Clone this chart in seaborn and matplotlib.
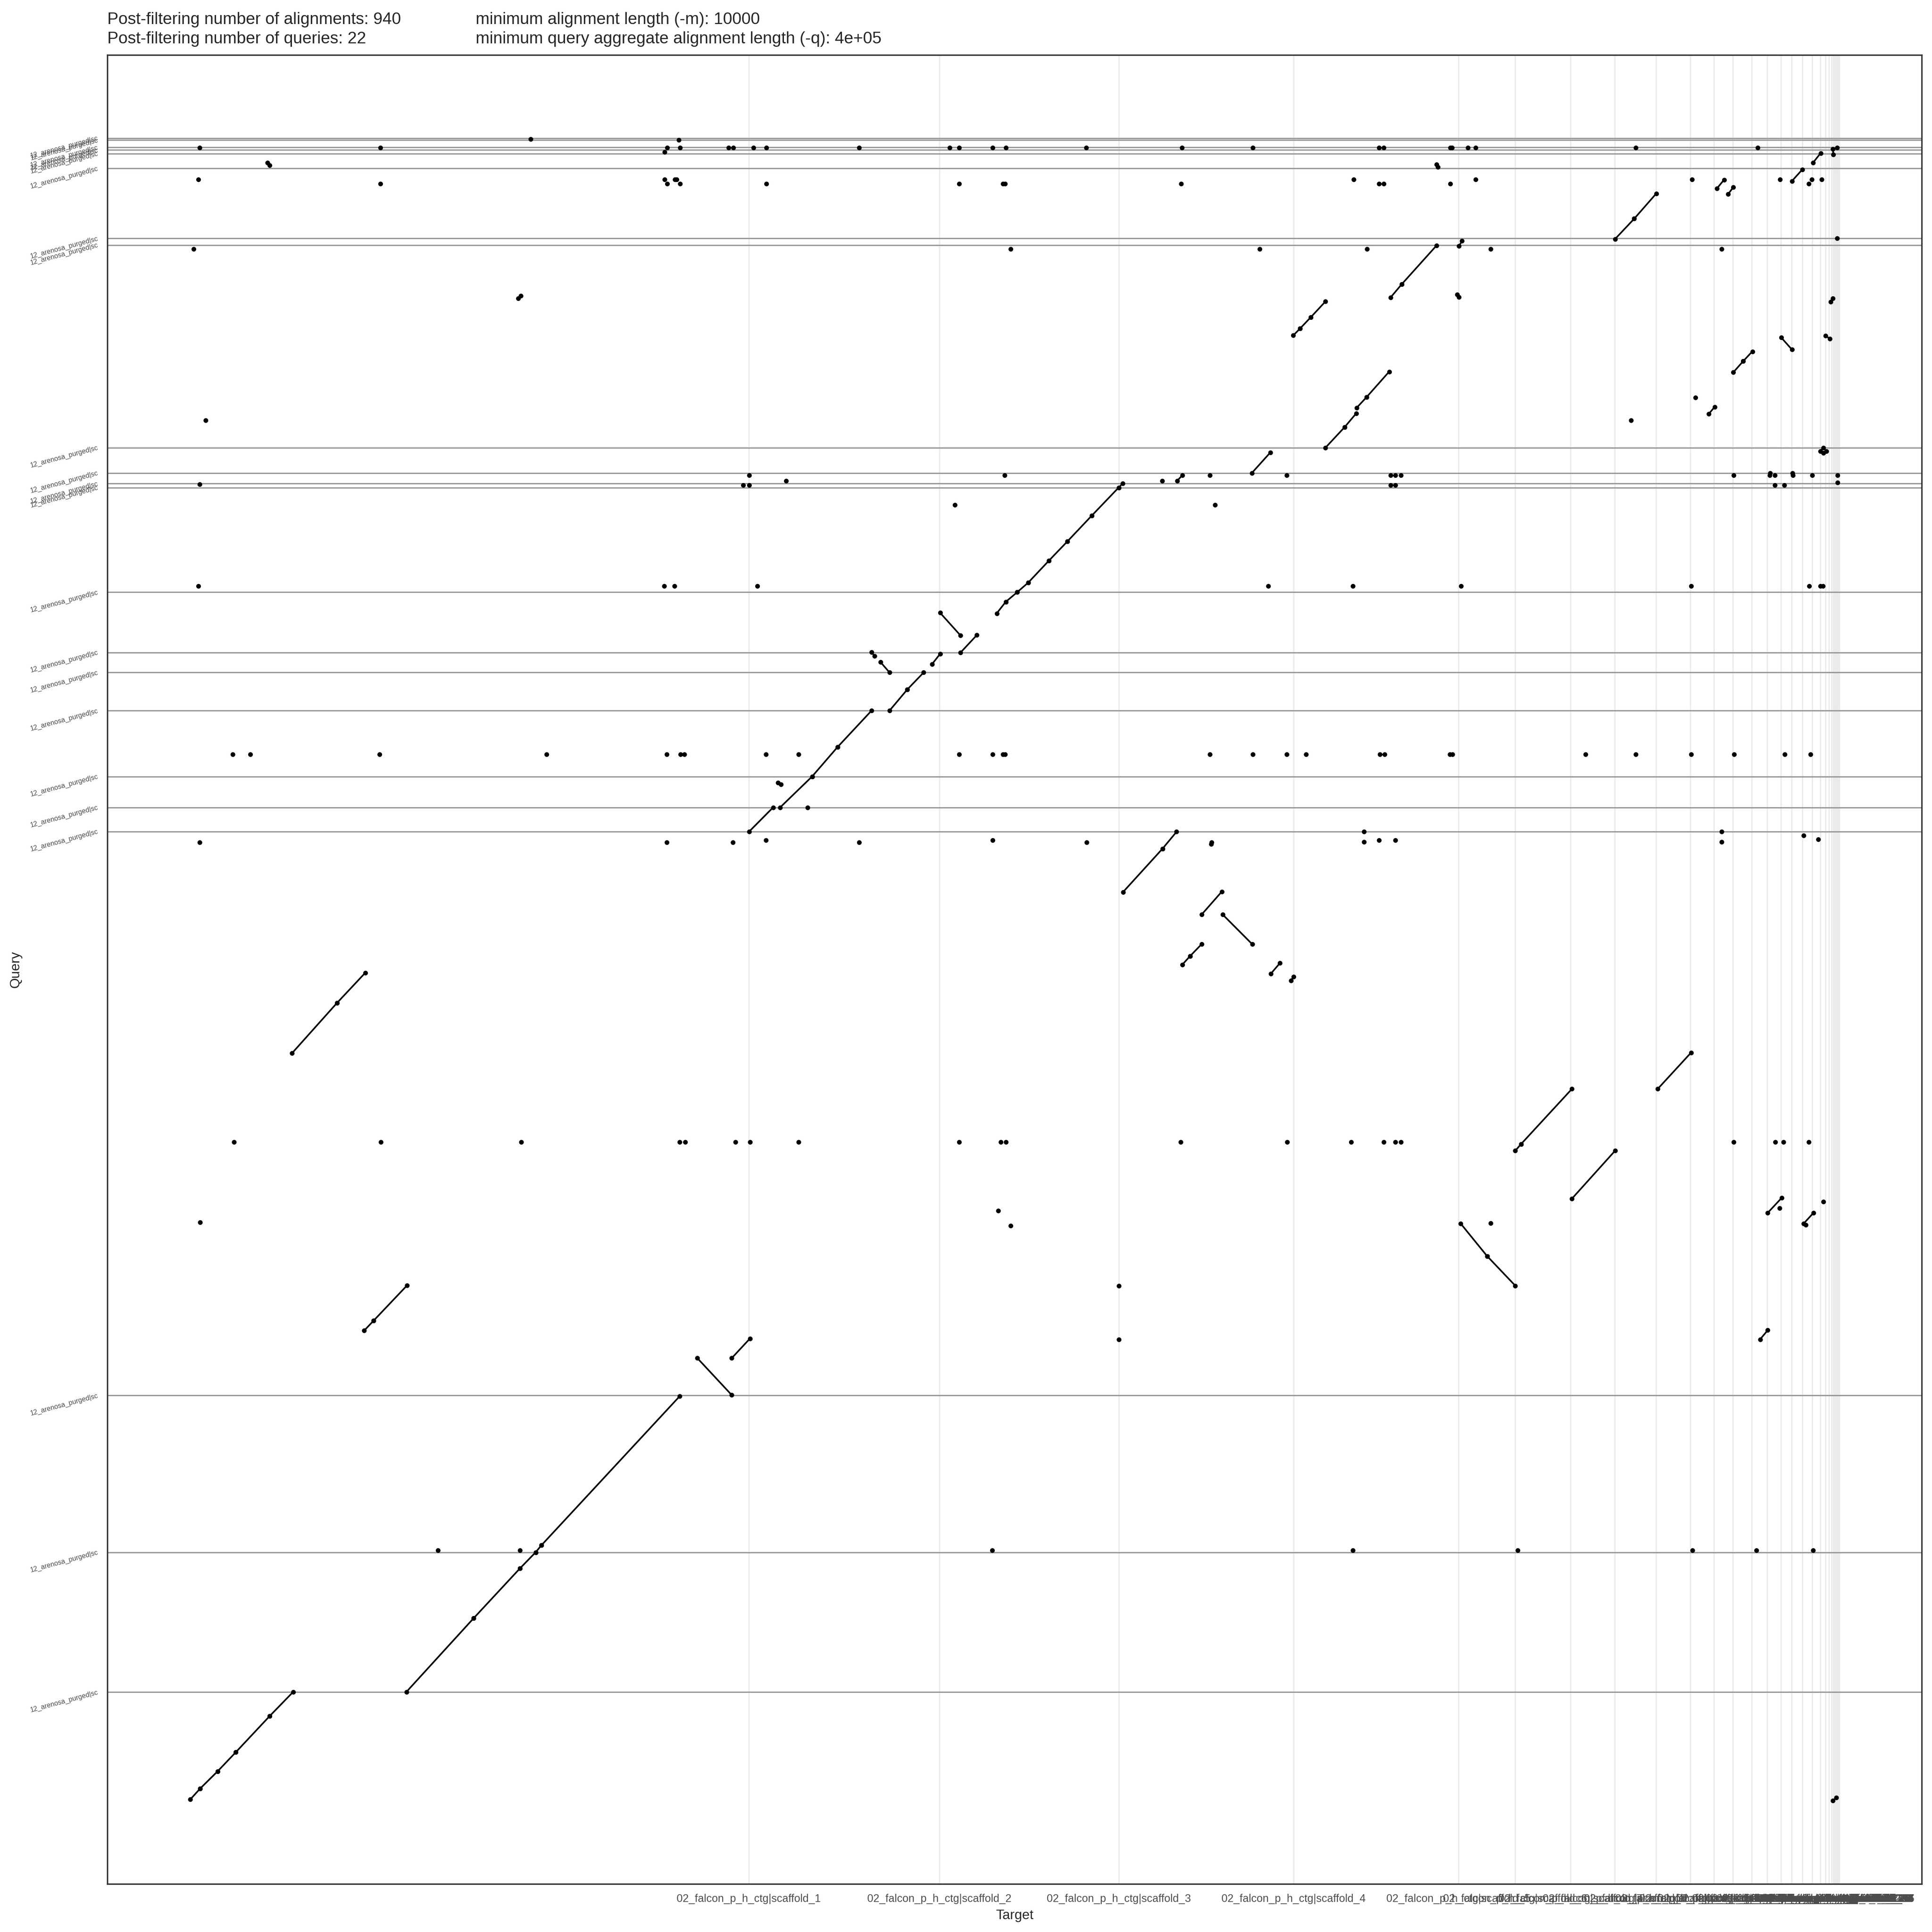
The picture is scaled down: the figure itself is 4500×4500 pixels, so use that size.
import numpy as np
import pandas as pd
import matplotlib
matplotlib.use("Agg")
import matplotlib.pyplot as plt
import seaborn as sns

# Target scaffolds (Mb), in plotting order
target_len = [45.43, 15.47, 14.60, 14.20, 13.40, 4.60, 4.50, 3.60, 3.33, 2.80,
              1.93, 1.53, 1.53, 1.26, 1.12, 0.87, 0.86, 0.82, 0.65, 0.40,
              0.30, 0.19, 0.14, 0.11, 0.04, 0.04, 0.04, 0.04, 0.04, 0.03,
              0.03, 0.03, 0.03, 0.02, 0.02, 0.02, 0.01]
target_names = ["02_falcon_p_h_ctg|scaffold_%d" % (i + 1) for i in range(len(target_len))]

# Query scaffolds (Mb), bottom to top
query_len = [8.82, 11.33, 12.72, 45.73, 1.96, 2.51, 5.34, 3.09, 1.62, 4.89,
             8.49, 0.33, 0.85, 2.06, 16.42, 0.54, 5.68, 1.20, 0.30, 0.20,
             0.60, 0.16]
query_names = ["12_arenosa_purged|sc"] * len(query_len)

# Alignments in cumulative coordinates (Mb): target start/end, query start/end
aln_t1 = [0.04, 0.84, 2.26, 3.73, 6.49, 133.50,
          17.60, 23.06, 26.84, 28.10, 28.58,
          41.24, 44.04, 14.17, 14.93, 8.31, 11.95, 75.83, 79.04, 82.21,
          83.94, 80.65, 81.28, 87.83, 89.47, 107.71, 108.17, 112.31, 119.28, 103.27,
          105.42, 128.22, 131.14, 127.60,
          45.46, 47.97, 47.80, 50.57, 52.63, 56.86, 58.30,
          60.30, 55.40, 56.13, 62.63, 60.97, 65.57, 66.30,
          67.23, 68.13, 69.80, 71.30, 73.30, 75.48, 86.30, 80.23,
          92.29, 93.84, 94.81, 95.63, 89.67, 90.22, 91.08, 97.56, 98.49, 103.14,
          102.97, 125.42, 126.22, 129.32, 133.35, 132.93, 123.42, 132.50, 132.73,
          115.82, 117.37, 130.18, 124.08, 125.01, 101.32, 131.90, 133.52, 6.30, 26.70]
aln_t2 = [0.84, 2.26, 3.73, 6.49, 8.40, 133.80,
          23.06, 26.84, 28.10, 28.58, 39.80,
          44.04, 45.51, 14.93, 17.64, 11.95, 14.26, 79.04, 80.18, 83.85,
          86.34, 81.28, 82.21, 88.59, 89.68, 108.17, 112.31, 115.82, 121.98, 105.42,
          107.71, 129.36, 131.94, 128.22,
          47.40, 50.57, 48.03, 52.63, 55.40, 58.30, 59.63,
          60.97, 55.63, 56.86, 63.96, 62.63, 66.30, 67.23,
          68.13, 69.80, 71.30, 73.30, 75.48, 75.80, 87.80, 80.66,
          93.84, 94.77, 95.63, 97.46, 90.22, 91.08, 92.29, 98.49, 101.32, 103.38,
          103.11, 126.22, 126.97, 130.18, 133.52, 133.28, 123.91, 132.75, 133.00,
          117.37, 119.16, 131.04, 124.67, 125.42, 101.42, 132.52, 133.55, 6.50, 26.90]
aln_q1 = [0.11, 0.99, 2.39, 3.93, 6.87, 0.00,
          8.83, 14.80, 18.86, 20.15, 20.73,
          35.90, 35.90, 38.13, 38.93, 60.63, 64.69, 73.69, 77.21, 71.86,
          71.86, 67.81, 68.50, 67.06, 66.51, 52.72, 53.25, 48.83, 57.73, 46.81,
          44.17, 47.68, 46.81, 37.42,
          78.61, 80.56, 82.56, 83.07, 85.45, 88.41, 90.12,
          92.16, 93.16, 92.34, 93.12, 96.34, 96.30, 97.23,
          98.01, 98.79, 100.56, 102.12, 104.23, 106.50, 107.68, 107.05,
          109.74, 111.40, 112.96, 113.84, 118.84, 119.40, 120.30, 121.90, 123.00, 126.10,
          122.16, 115.84, 116.74, 118.66, 121.56, 118.80, 112.46, 109.46, 109.30,
          126.66, 128.30, 131.35, 130.74, 130.30, 132.70, 132.84, 133.95, 132.85, 121.85]
aln_q2 = [0.99, 2.39, 3.93, 6.87, 8.83, 0.25,
          14.80, 18.86, 20.15, 20.73, 32.80,
          32.90, 37.48, 38.93, 41.78, 64.69, 67.15, 77.21, 78.58, 73.72,
          69.46, 68.50, 69.46, 67.94, 66.82, 53.25, 57.73, 52.72, 60.66, 44.17,
          41.77, 48.90, 47.68, 38.16,
          80.56, 83.07, 82.41, 85.45, 88.41, 90.12, 91.50,
          93.01, 92.85, 91.50, 94.54, 94.50, 97.23, 98.01,
          98.79, 100.56, 102.12, 104.23, 106.50, 106.83, 109.34, 107.50,
          111.40, 112.50, 113.84, 115.90, 119.40, 120.30, 121.60, 123.00, 126.14, 126.50,
          121.94, 116.74, 117.54, 117.70, 121.84, 118.56, 113.04, 109.74, 109.46,
          128.30, 130.34, 132.30, 131.46, 130.86, 132.50, 133.62, 133.49, 132.65, 122.05]

# Short alignments (dots), grouped by query position
dot_rows_q = [53.44, 20.30, 84.85, 98.50, 77.72, 77.89, 77.77, 78.58,
              107.50, 106.68, 134.07, 131.49, 131.14, 125.85]
dot_rows_t = [
    [3.6, 15.51, 26.93, 39.82, 40.26, 44.35, 45.51, 49.46, 62.53, 65.9, 66.3, 80.52,
     89.17, 94.37, 97.03, 97.96, 98.42, 125.44, 128.82, 129.5, 131.57],
    [20.17, 26.84, 65.2, 94.5, 107.9, 122.1, 127.3, 131.9],
    [3.5, 4.9, 15.4, 29.0, 38.77, 39.86, 40.2, 46.83, 49.46, 62.5, 65.23, 66.06, 66.26,
     82.9, 86.37, 89.13, 90.7, 96.7, 97.1, 102.4, 102.6, 113.4, 117.5, 122.0, 125.5,
     129.6, 131.7],
    [0.7, 38.56, 39.37, 46.13, 87.63, 94.5, 103.3, 122.0, 131.6, 132.5, 132.7],
    [0.8, 38.77, 44.13, 54.37, 72.87, 83.03],
    [46.83, 65.23, 96.64, 97.96],
    [95.43, 124.47],
    [95.43, 124.47],
    [45.46, 66.23, 82.9, 89.12, 97.56, 97.97, 98.42, 125.46, 128.39, 128.8, 130.25,
     131.83, 133.9],
    [44.97, 45.46, 97.56, 97.97, 128.8, 129.56],
    [0.8, 15.5, 38.78, 39.85, 43.78, 44.15, 45.82, 46.85, 54.38, 61.75, 62.52, 65.22,
     66.32, 72.85, 80.62, 86.37, 96.63, 97.01, 102.42, 102.56, 103.86, 104.48, 117.5,
     127.42, 133.86],
    [0.7, 38.58, 39.42, 39.55, 94.56, 104.48, 122.05, 129.21, 131.79, 132.59],
    [15.5, 38.78, 39.85, 46.85, 62.52, 66.08, 66.25, 80.55, 96.63, 97.01, 102.42, 131.55],
    [0.3, 66.7, 86.95, 95.67, 105.72, 124.49],
]
dot_t_single = [0.84, 83.01, 131.14, 132.32, 105.72, 129.2, 131.3, 132.74, 75.49, 75.49,
                65.7, 66.7, 50.2, 48.46, 79.03, 62.16, 83.3, 133.9, 0.8, 128.43,
                130.24, 39.75, 38.58, 27.7, 133.85, 1.3, 117.1, 122.35]
dot_q_single = [46.91, 77.58, 78.27, 77.96, 46.83, 48.07, 46.7, 48.59, 41.77, 37.42,
                47.85, 46.65, 80.56, 107.05, 107.05, 105.08, 105.08, 106.9, 106.75, 107.68,
                107.68, 134.69, 133.72, 134.75, 126.7, 111.95, 111.94, 113.78]

# ---- build tables ----
target_ends = np.cumsum(target_len)
query_ends = np.cumsum(query_len)

seg = pd.DataFrame({"t1": aln_t1, "t2": aln_t2, "q1": aln_q1, "q2": aln_q2})
seg["id"] = np.arange(len(seg))
seg_long = pd.concat([
    seg[["id", "t1", "q1"]].rename(columns={"t1": "t", "q1": "q"}),
    seg[["id", "t2", "q2"]].rename(columns={"t2": "t", "q2": "q"}),
]).sort_values(["id"], kind="stable")

dots = pd.DataFrame({
    "t": [x for row in dot_rows_t for x in row] + dot_t_single,
    "q": [q for q, row in zip(dot_rows_q, dot_rows_t) for _ in row] + dot_q_single,
})
ends = pd.concat([seg_long[["t", "q"]], dots])

# ---- plot ----
sns.set_style("white")
plt.rcParams["font.family"] = ["Liberation Sans", "DejaVu Sans"]

fig = plt.figure(figsize=(15, 15), dpi=300)
ax = fig.add_axes([250 / 4500, 112 / 4500, 4226 / 4500, 4260 / 4500])

for q in query_ends:
    ax.axhline(q, color="#999999", lw=0.75, zorder=1)

sns.lineplot(data=seg_long, x="t", y="q", units="id", estimator=None, sort=False,
             color="black", lw=0.9, ax=ax, zorder=3)
sns.scatterplot(data=ends, x="t", y="q", s=7, color="black", linewidth=0,
                ax=ax, zorder=4, legend=False)

T = target_ends[-1]
Q = query_ends[-1]
ax.set_xlim(-0.05 * T, 1.05 * T)
ax.set_ylim(-0.05 * Q, 1.05 * Q)

ax.set_xticks(target_ends)
ax.set_xticklabels(target_names, fontsize=6.05, color="#4D4D4D")
ax.set_yticks(query_ends)
ax.set_yticklabels(query_names, fontsize=3.85, color="#4D4D4D", rotation=15,
                   ha="right", va="center", rotation_mode="anchor")

ax.grid(axis="x", color="#EBEBEB", lw=0.75, zorder=0)
ax.grid(axis="y", visible=False)
ax.set_axisbelow(True)
ax.tick_params(axis="x", direction="out", length=2.6, width=0.7, color="#333333", pad=3.0)
ax.tick_params(axis="y", direction="out", length=3.1, width=0.7, color="#333333", pad=2.2)
for s in ax.spines.values():
    s.set_color("#333333")
    s.set_linewidth(0.8)

ax.set_xlabel("Target", fontsize=7.6)
ax.set_ylabel("Query", fontsize=7.6)
ax.xaxis.set_label_coords(0.5, -0.0139)
ax.xaxis.label.set_va("top")
ax.yaxis.set_label_coords(-0.047, 0.5)

fig.text(250 / 4500, 1 - 56 / 4500, "Post-filtering number of alignments: 940",
         fontsize=9.3, ha="left", va="baseline")
fig.text(1108 / 4500, 1 - 56 / 4500, "minimum alignment length (-m): 10000",
         fontsize=9.3, ha="left", va="baseline")
fig.text(250 / 4500, 1 - 101 / 4500, "Post-filtering number of queries: 22",
         fontsize=9.3, ha="left", va="baseline")
fig.text(1108 / 4500, 1 - 101 / 4500, "minimum query aggregate alignment length (-q): 4e+05",
         fontsize=9.3, ha="left", va="baseline")

fig.savefig("out.png", dpi=300)
plt.close(fig)
